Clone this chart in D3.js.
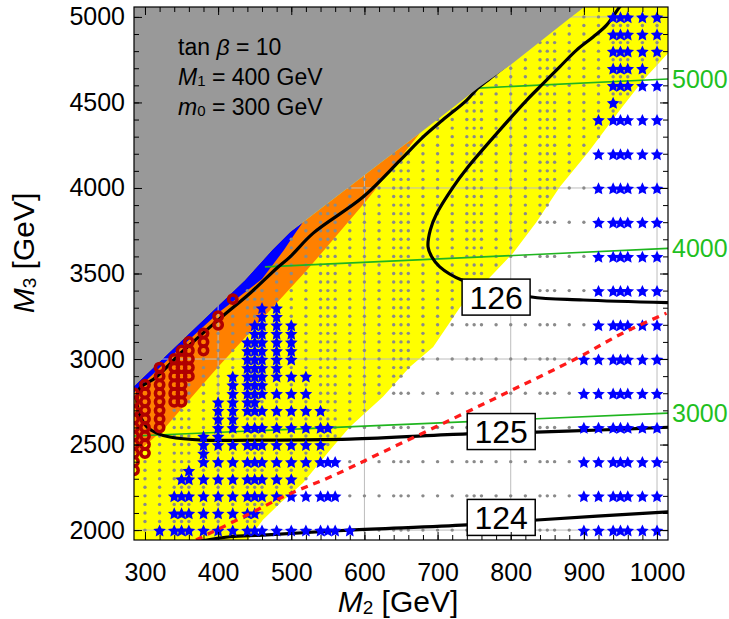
<!DOCTYPE html>
<html><head><meta charset="utf-8">
<script src="https://cdn.jsdelivr.net/npm/d3@7"></script>
<style>body{margin:0;background:#fff}</style>
</head><body>
<svg id="c" width="729" height="619"></svg>
<script>
// ---------------- data ----------------
const m2Ticks = [300,400,500,600,700,800,900,1000];
const m3Ticks = [2000,2500,3000,3500,4000,4500,5000];
const gridM2 = [400,600,800,1000];
const gridM3 = [2000,3000,4000,5000];

// scan grid
const scanM2 = [300,320,340,350,360,380,400,420,440,450,460,480,500,520,540,550,560,580,600,620,640,650,660,680,700,720,740,750,760,780,800,820,840,850,860,880,900,920,940,950,960,980,1000];
const scanM3 = [2000,2050,2100,2150,2200,2250,2300,2350,2400,2450,2500,2550,2600,2650,2700,2750,2800,2850,2900,2950,3000,3050,3100,3150,3200,3250,3300,3350,3400,3450,3500,3550,3600,3650,3700,3750,3800,3850,3900,3950,4000,4050,4100,4150,4200,4250,4300,4350,4400,4450,4500,4550,4600,4650,4700,4750,4800,4850,4900,4950,5000];
const coarseM3 = [2000,2200,2400,2600,2800,3000,3200,3400,3600,3800,4000,4200,4400,4600,4800,5000];

// region boundaries (M2, M3)
const grayEdge = [[285,2842],[436.7,3462],[473.7,3637],[498.3,3742],[516,3800],[621.3,4145],[676,4321],[755.3,4584],[803.1,4730],[881,4993],[900.2,5057],[903,5070]];
const blueLower = [[285,2805],[346.5,3058],[402.6,3278],[460,3468],[490,3637],[506.5,3742],[516,3800]];
const orangeLower = [[285,2439],[324.6,2585],[399.8,2953],[521.5,3520],[603.5,3929],[676,4321]];
const yellowEdge = [[1020,4800],[1015,4788],[981,4630],[949,4455],[907,4215],[867,4005],[835,3800],[803,3619],[768,3462],[731,3304],[694,3070],[662,2953],[625,2778],[580,2602],[553,2468],[516,2275],[485,2158],[461,2059],[441,1942],[438,1930]];

// Higgs mass contours
const contour126 = [[1020,3329],[899,3345],[826,3364],[733,3462],[703,3539],[692,3598],[687,3656],[690,3754],[699,3852],[721.5,4007],[740,4114],[781,4319],[822,4514],[844.5,4611],[867,4708],[890,4806],[913,4884],[931,4952],[949,5059],[955,5090]];
const contour125 = [[1020,2602],[922,2585],[835,2573],[740,2562],[580,2532],[444,2526],[379,2526],[334,2544],[316,2567],[303,2602],[293,2673],[289,2760],[293,2830],[314,2889],[350.6,3041],[403,3239],[444,3386],[480.5,3532],[498,3596],[530,3736],[598,3947],[649,4163],[680,4297],[707,4397],[740,4514],[755,4584],[772,4642],[799,4736],[815,4790]];
const contour124 = [[360,1925],[416,1961],[461,1971],[580,2000],[740,2030],[836,2059],[1020,2108]];
const labels = [{t:"126",m2:780,m3:3362},{t:"125",m2:787,m3:2576},{t:"124",m2:787,m3:2074}];

// red dashed line
const redDash = [[369.8,1942],[439.5,2088],[494,2205],[553,2310],[625,2456],[717,2643],[802,2819],[891,3006],[953.5,3152],[1013,3268]];

// gluino mass lines (green)
const greenLines = [
  {v:"5000", pts:[[755,4584],[1015,4637]]},
  {v:"4000", pts:[[464,3539],[1015,3647]]},
  {v:"3000", pts:[[285,2550],[1015,2684]]}
];

// blue stars: [M3, [M2 ...]]
const starsLeft = [
  [3300,[460,480]],
  [3250,[460,480]],
  [3200,[450,460,480,500]],
  [3150,[450,460,480,500]],
  [3100,[440,450,460,480,500]],
  [3050,[440,450,460,480,500]],
  [3000,[440,450,460,480,500]],
  [2950,[440,450,460,480]],
  [2900,[420,440,450,460,480,500,520]],
  [2850,[420,440,450,460]],
  [2800,[420,440,450,460,480,500,520]],
  [2750,[400,420,440,450]],
  [2700,[400,420,440,450,460,480,500,520,540]],
  [2650,[400,420]],
  [2600,[400,420,440,450,460,480,500,520,540,550]],
  [2550,[380,400]],
  [2500,[380,400,420,440,450,460,480,500,520,540]],
  [2450,[380]],
  [2400,[380,400,420,440,450,460,480,500,520,540,550,560]],
  [2350,[360]],
  [2300,[350,360,380,400,420,440,450,460,480,500]],
  [2200,[340,350,360,380,400,420,440,450,460,480,500,520,540,550,560]],
  [2100,[340,350,360,380,400,420,440,450]],
  [2000,[320,340,350,360,380,400,420,440,450,460,480,500,520,540,550,560,580]]
];
const starsRight = [
  [5000,[940,950,960,980,1000]],
  [4900,[940,950,960,980,1000]],
  [4800,[940,950,960,980,1000]],
  [4700,[940,950,960,980]],
  [4600,[940,950,960,980,1000]],
  [4500,[940]],
  [4400,[920,940,950,960,980,1000]],
  [4200,[920,940,950,960,980,1000]],
  [4000,[920,940,950,960,980,1000]],
  [3800,[920,940,950,960,980,1000]],
  [3600,[920,940,950,960,980,1000]],
  [3400,[920,940,950,960,980,1000]],
  [3200,[920,940,950,960,980,1000]],
  [3000,[900,920,940,950,960,980,1000]],
  [2800,[900,920,940,950,960,980,1000]],
  [2600,[900,920,940,950,960,980,1000]],
  [2400,[900,920,940,950,960,980,1000]],
  [2200,[900,920,940,950,960,980,1000]],
  [2000,[900,920,940,950,960,980,1000]]
];
// red circles: [M2, [M3 ...]]
const redCircles = [
  [285,[2350,2400,2450,2500,2550,2600,2650,2700,2750,2800]],
  [300,[2450,2500,2550,2600,2650,2700,2750,2800,2850]],
  [320,[2600,2650,2700,2750,2800,2850,2900,2950]],
  [340,[2750,2800,2850,2900,2950,3000]],
  [350,[2750,2800,2850,2900,2950,3000,3050]],
  [360,[2900,2950,3000,3050,3100]],
  [380,[3050,3100,3150]],
  [400,[3200,3250]],
  [420,[3350]]
];

// ---------------- drawing ----------------
const FONT = "'Liberation Sans', Arial, Helvetica, sans-serif";
const L=134, R=668, T=7, B=540;
const x = d3.scaleLinear().domain([285,1015]).range([L,R]);
const y = d3.scaleLinear().domain([1942,5058]).range([B,T]);
const P = d => [x(d[0]), y(d[1])];

const svg = d3.select("#c");
svg.append("defs").append("clipPath").attr("id","clip")
  .append("rect").attr("x",L).attr("y",T).attr("width",R-L).attr("height",B-T);
const g = svg.append("g").attr("clip-path","url(#clip)");
const linePoly = d3.line().x(d=>x(d[0])).y(d=>y(d[1]));
const lineSmooth = d3.line().x(d=>x(d[0])).y(d=>y(d[1])).curve(d3.curveCatmullRom);

// polygons in data coordinates
const yellowPoly = [[270,1930],[270,5070]].concat([[1020,5070]], yellowEdge);
const grayUpTo = lim => grayEdge.filter(d=>d[0]<=lim);
const orangePoly = grayUpTo(676).concat(orangeLower.slice().reverse(), [[270,2439],[270,2842]]);
const bluePoly = grayUpTo(516).concat(blueLower.slice().reverse(), [[270,2805],[270,2842]]);
const grayPoly = [[270,2842]].concat(grayEdge, [[903,5080],[270,5080]]);

g.append("path").attr("d", linePoly(yellowPoly)+"Z").attr("fill","#ffff00");
g.append("path").attr("d", linePoly(orangePoly)+"Z").attr("fill","#ff8000");
g.append("path").attr("d", linePoly(bluePoly)+"Z").attr("fill","#0000ff");

// grid
g.selectAll(".gx").data(gridM2).enter().append("line")
  .attr("x1",d=>x(d)).attr("x2",d=>x(d)).attr("y1",T).attr("y2",B)
  .attr("stroke","#bdbdbd").attr("stroke-width",1);
g.selectAll(".gy").data(gridM3).enter().append("line")
  .attr("y1",d=>y(d)).attr("y2",d=>y(d)).attr("x1",L).attr("x2",R)
  .attr("stroke","#bdbdbd").attr("stroke-width",1);

// scan points
const occupied = new Set();
starsLeft.concat(starsRight).forEach(([m3, list]) => list.forEach(m2 => occupied.add(m2+"_"+m3)));
redCircles.forEach(([m2, list]) => list.forEach(m3 => occupied.add(m2+"_"+m3)));
const pxGray = grayPoly.map(P), pxBlue = bluePoly.map(P), pxYellow = yellowPoly.map(P), pxOrange = orangePoly.map(P);
const dots = [];
scanM2.forEach(m2 => scanM3.forEach(m3 => {
  if (occupied.has(m2+"_"+m3)) return;
  const p = [x(m2), y(m3)];
  if (d3.polygonContains(pxGray, p) || d3.polygonContains(pxBlue, p)) return;
  const colored = d3.polygonContains(pxYellow, p) || d3.polygonContains(pxOrange, p);
  if (!colored && !coarseM3.includes(m3)) return;
  dots.push([m2, m3]);
}));
g.selectAll(".dot").data(dots).enter().append("circle")
  .attr("cx",d=>x(d[0])).attr("cy",d=>y(d[1])).attr("r",1.7).attr("fill","#8a8a8a");

// green lines
g.selectAll(".gl").data(greenLines).enter().append("path")
  .attr("d",d=>linePoly(d.pts)).attr("fill","none").attr("stroke","#1fb51f").attr("stroke-width",1.6);

// black contours
[contour126, contour125, contour124].forEach(c => {
  g.append("path").attr("d", lineSmooth(c)).attr("fill","none")
   .attr("stroke","#000").attr("stroke-width",3.2).attr("stroke-linejoin","round");
});

// gray excluded region (on top of grid and contour ends)
g.append("path").attr("d", linePoly(grayPoly)+"Z").attr("fill","#999999");

// stars (plump five-pointed star as a d3 symbol type)
const plumpStar = {
  draw(ctx, size) {
    const r = Math.sqrt(size), ri = r * 0.48;
    for (let i = 0; i < 10; i++) {
      const a = Math.PI * i / 5, rr = (i % 2) ? ri : r;
      const px = rr * Math.sin(a), py = -rr * Math.cos(a);
      if (i) ctx.lineTo(px, py); else ctx.moveTo(px, py);
    }
    ctx.closePath();
  }
};
const starPath = d3.symbol().type(plumpStar).size(44)();
const stars = [];
starsLeft.concat(starsRight).forEach(([m3, list]) => list.forEach(m2 => stars.push([m2, m3])));
g.selectAll(".star").data(stars).enter().append("path")
  .attr("d", starPath).attr("transform", d=>`translate(${x(d[0])},${y(d[1])+1})`)
  .attr("fill","#0000ff");

// red dashed line
g.append("path").attr("d", lineSmooth(redDash)).attr("fill","none")
  .attr("stroke","#ff1a1a").attr("stroke-width",3.3).attr("stroke-dasharray","7,6");

// red circles
const circ = [];
redCircles.forEach(([m2, list]) => list.forEach(m3 => circ.push([m2, m3])));
g.selectAll(".rc").data(circ).enter().append("circle")
  .attr("cx",d=>x(d[0])).attr("cy",d=>y(d[1])).attr("r",4.2)
  .attr("fill","none").attr("stroke","#b00000").attr("stroke-width",3.5);

// contour labels
const lg = svg.append("g");
labels.forEach(l => {
  const cx = x(l.m2), cy = y(l.m3);
  lg.append("rect").attr("x",cx-34).attr("y",cy-18).attr("width",68).attr("height",36)
    .attr("fill","#fff").attr("stroke","#000").attr("stroke-width",1.5);
  lg.append("text").attr("x",cx).attr("y",cy).attr("dy","0.36em").attr("text-anchor","middle")
    .attr("font-family",FONT).attr("font-size",32).text(l.t);
});

// axes (inward ticks)
const minorX = d3.range(300,1001,20), minorY = d3.range(2000,5001,100);
function styleAxis(sel){ sel.select(".domain").remove(); sel.selectAll("line").attr("stroke","#000"); }
svg.append("g").attr("transform",`translate(0,${B})`)
  .call(d3.axisBottom(x).tickValues(minorX).tickSize(-5).tickSizeOuter(0).tickFormat("")).call(styleAxis);
svg.append("g").attr("transform",`translate(0,${T})`)
  .call(d3.axisTop(x).tickValues(minorX).tickSize(-5).tickSizeOuter(0).tickFormat("")).call(styleAxis);
svg.append("g").attr("transform",`translate(${L},0)`)
  .call(d3.axisLeft(y).tickValues(minorY).tickSize(-5).tickSizeOuter(0).tickFormat("")).call(styleAxis);
svg.append("g").attr("transform",`translate(${R},0)`)
  .call(d3.axisRight(y).tickValues(minorY).tickSize(-5).tickSizeOuter(0).tickFormat("")).call(styleAxis);
svg.append("g").attr("transform",`translate(${R},0)`)
  .call(d3.axisRight(y).tickValues(m3Ticks).tickSize(-8).tickSizeOuter(0).tickFormat("")).call(styleAxis);
svg.append("g").attr("transform",`translate(0,${T})`)
  .call(d3.axisTop(x).tickValues(m2Ticks).tickSize(-8).tickSizeOuter(0).tickFormat("")).call(styleAxis);

const fmt = d3.format("d");
const ax = svg.append("g").attr("transform",`translate(0,${B})`)
  .call(d3.axisBottom(x).tickValues(m2Ticks).tickSize(-8).tickSizeOuter(0).tickPadding(23).tickFormat(fmt));
ax.call(styleAxis);
ax.attr("font-family",FONT).attr("font-size",25);
ax.selectAll("text").attr("fill","#000");
const ay = svg.append("g").attr("transform",`translate(${L},0)`)
  .call(d3.axisLeft(y).tickValues(m3Ticks).tickSize(-8).tickSizeOuter(0).tickPadding(9).tickFormat(fmt));
ay.call(styleAxis);
ay.attr("font-family",FONT).attr("font-size",25);
ay.selectAll("text").attr("fill","#000");

// frame
svg.append("rect").attr("x",L).attr("y",T).attr("width",R-L).attr("height",B-T)
  .attr("fill","none").attr("stroke","#000").attr("stroke-width",1.2);

// green labels on the right
greenLines.forEach(d => {
  const last = d.pts[d.pts.length-1];
  svg.append("text").attr("x",R+4).attr("y",y(last[1])).attr("dy","0.36em")
    .attr("font-family",FONT).attr("font-size",25).attr("fill","#1fc01f").text(d.v);
});

// annotation
const ann = svg.append("g").attr("font-family",FONT).attr("font-size",23).attr("fill","#000");
const t1 = ann.append("text").attr("x",178).attr("y",55);
t1.append("tspan").text("tan ");
t1.append("tspan").attr("font-style","italic").text("β");
t1.append("tspan").text(" = 10");
const t2 = ann.append("text").attr("x",178).attr("y",85);
t2.append("tspan").attr("font-style","italic").text("M");
t2.append("tspan").attr("font-size",15).attr("dy",1).text("1");
t2.append("tspan").attr("dy",-1).text(" = 400 GeV");
const t3 = ann.append("text").attr("x",178).attr("y",115);
t3.append("tspan").attr("font-style","italic").text("m");
t3.append("tspan").attr("font-size",15).attr("dy",1).text("0");
t3.append("tspan").attr("dy",-1).text(" = 300 GeV");

// axis titles
const xt = svg.append("text").attr("x",398).attr("y",612).attr("text-anchor","middle")
  .attr("font-family",FONT).attr("font-size",30);
xt.append("tspan").attr("font-style","italic").text("M");
xt.append("tspan").attr("font-size",19).attr("dy",2).text("2");
xt.append("tspan").attr("dy",-2).text(" [GeV]");
const yt = svg.append("text").attr("transform","translate(34,253) rotate(-90)").attr("text-anchor","middle")
  .attr("font-family",FONT).attr("font-size",30);
yt.append("tspan").attr("font-style","italic").text("M");
yt.append("tspan").attr("font-size",19).attr("dy",2).text("3");
yt.append("tspan").attr("dy",-2).text(" [GeV]");
</script>
</body></html>
